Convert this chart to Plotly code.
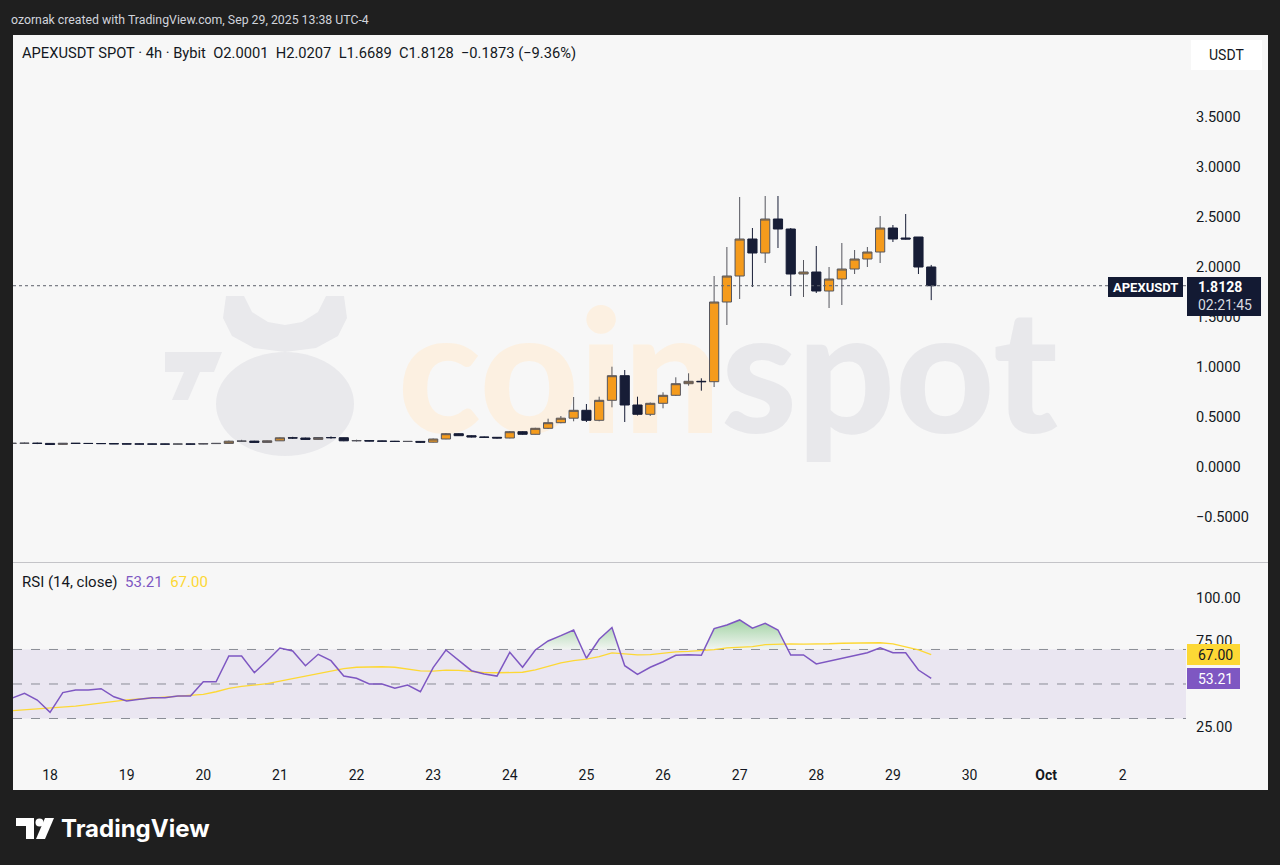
import plotly.graph_objects as go
import pandas as pd

# ---------------- data ----------------
times = pd.date_range("2025-09-17 12:00", periods=73, freq="4h")

opens = [0.236, 0.237, 0.238, 0.236, 0.226, 0.237, 0.236, 0.235, 0.234, 0.232,
         0.230, 0.230, 0.229, 0.229, 0.230, 0.229, 0.234, 0.236, 0.258, 0.259,
         0.246, 0.262, 0.292, 0.290, 0.276, 0.295, 0.293, 0.262, 0.264, 0.260,
         0.258, 0.255, 0.256, 0.248, 0.280, 0.333, 0.313, 0.300, 0.297, 0.290,
         0.353, 0.327, 0.387, 0.443, 0.488, 0.567, 0.467, 0.667, 0.913, 0.620,
         0.527, 0.637, 0.717, 0.833, 0.857, 0.853, 1.650, 1.910, 2.280, 2.140,
         2.480, 2.380, 1.930, 1.950, 1.760, 1.880, 1.980, 2.080, 2.150, 2.390,
         2.290, 2.300, 2.0001]
highs = [0.240, 0.245, 0.244, 0.238, 0.240, 0.240, 0.239, 0.238, 0.236, 0.234,
         0.233, 0.232, 0.232, 0.232, 0.232, 0.236, 0.238, 0.264, 0.272, 0.262,
         0.265, 0.296, 0.302, 0.293, 0.298, 0.306, 0.295, 0.273, 0.267, 0.263,
         0.261, 0.259, 0.258, 0.285, 0.340, 0.337, 0.318, 0.304, 0.300, 0.360,
         0.358, 0.392, 0.483, 0.510, 0.700, 0.630, 0.703, 1.003, 0.970, 0.703,
         0.645, 0.747, 0.897, 0.937, 0.887, 1.910, 2.200, 2.700, 2.390, 2.710,
         2.710, 2.390, 2.070, 2.210, 2.000, 2.240, 2.170, 2.200, 2.510, 2.420,
         2.530, 2.300, 2.0207]
lows = [0.232, 0.230, 0.229, 0.221, 0.222, 0.233, 0.232, 0.232, 0.230, 0.229,
        0.228, 0.228, 0.227, 0.227, 0.227, 0.227, 0.231, 0.234, 0.250, 0.242,
        0.244, 0.260, 0.280, 0.273, 0.274, 0.283, 0.258, 0.255, 0.257, 0.255,
        0.252, 0.251, 0.240, 0.245, 0.278, 0.310, 0.296, 0.293, 0.285, 0.287,
        0.322, 0.325, 0.380, 0.437, 0.457, 0.450, 0.457, 0.597, 0.450, 0.515,
        0.510, 0.587, 0.710, 0.813, 0.763, 0.800, 1.420, 1.680, 1.800, 2.040,
        2.190, 1.710, 1.700, 1.740, 1.590, 1.620, 1.930, 2.000, 2.040, 2.250,
        2.275, 1.930, 1.6689]
closes = [0.237, 0.238, 0.236, 0.226, 0.237, 0.236, 0.235, 0.234, 0.232, 0.230,
          0.230, 0.229, 0.229, 0.230, 0.229, 0.234, 0.236, 0.258, 0.259, 0.246,
          0.262, 0.292, 0.290, 0.276, 0.295, 0.293, 0.262, 0.264, 0.260, 0.258,
          0.255, 0.256, 0.248, 0.280, 0.333, 0.313, 0.300, 0.297, 0.290, 0.353,
          0.327, 0.387, 0.443, 0.488, 0.567, 0.467, 0.667, 0.913, 0.620, 0.527,
          0.637, 0.717, 0.833, 0.857, 0.853, 1.650, 1.910, 2.280, 2.140, 2.480,
          2.380, 1.930, 1.950, 1.760, 1.880, 1.980, 2.080, 2.150, 2.390, 2.280,
          2.280, 2.000, 1.8128]

rsi = [41.7, 44.6, 40.7, 33.6, 45.0, 46.5, 46.5, 47.3, 42.6, 40.1,
       41.1, 42.0, 42.0, 43.0, 43.0, 51.3, 51.3, 66.2, 66.2, 56.6,
       63.5, 70.8, 69.1, 60.6, 67.2, 63.5, 54.6, 53.3, 50.0, 50.0,
       47.5, 49.4, 45.5, 59.5, 69.7, 63.5, 57.7, 55.8, 54.6, 68.4,
       59.7, 69.7, 74.9, 78.0, 81.3, 64.9, 75.9, 82.7, 60.6, 55.6,
       59.7, 62.9, 66.6, 67.0, 66.6, 82.1, 84.2, 87.1, 82.3, 85.2,
       81.3, 66.8, 66.8, 61.6, 63.3, 65.1, 66.6, 68.1, 71.0, 68.1,
       68.1, 58.1, 53.21]
rsi_ma = [34.5, 35.0, 35.6, 36.0, 36.5, 37.2, 38.0, 39.0, 40.0, 40.8,
          41.3, 41.8, 42.3, 43.0, 43.4, 44.0, 45.5, 47.5, 48.6, 49.2,
          50.2, 51.6, 53.0, 54.5, 56.0, 57.6, 58.9, 59.7, 60.0, 60.0,
          59.7, 58.8, 57.6, 57.4, 58.0, 57.9, 57.2, 56.6, 56.5, 56.5,
          56.8, 58.2, 60.2, 62.2, 63.6, 64.4, 65.8, 68.0, 67.5, 66.9,
          67.0, 68.0, 68.6, 68.9, 69.2, 69.9, 70.9, 71.4, 71.7, 72.8,
          73.2, 73.2, 73.1, 73.0, 73.3, 73.6, 73.7, 73.8, 73.9, 73.2,
          71.6, 69.7, 67.0]

price_ticks = [-0.5, 0.0, 0.5, 1.0, 1.5, 2.0, 2.5, 3.0, 3.5]
rsi_ticks = [25, 50, 75, 100]
rsi_levels = [70, 50, 30]
day_ticks = ["2025-09-18", "2025-09-19", "2025-09-20", "2025-09-21", "2025-09-22",
             "2025-09-23", "2025-09-24", "2025-09-25", "2025-09-26", "2025-09-27",
             "2025-09-28", "2025-09-29", "2025-09-30", "2025-10-01", "2025-10-02"]
day_labels = ["18", "19", "20", "21", "22", "23", "24", "25", "26", "27",
              "28", "29", "30", "<b>Oct</b>", "2"]

header = ("APEXUSDT SPOT · 4h · Bybit\u00a0\u00a0O2.0001\u00a0\u00a0H2.0207\u00a0\u00a0"
          "L1.6689\u00a0\u00a0C1.8128\u00a0\u00a0\u22120.1873 (\u22129.36%)")

# ---------------- styling / layout helpers ----------------
W, H = 1280, 865
L_PX, R_PX, T_PX, B_PX = 13, 1186, 35, 762
UP, UP_LINE = "#f59b1c", "#55565e"
DN = "#171d36"
NAVY = "#131a33"
TXT = "#131722"
PURPLE, YELLOW = "#7e57c2", "#fdd835"
FONT = "Roboto, sans-serif"
BG = "#f7f7f7"
DARK = "#1f1f1f"


def px(x):
    return (x - L_PX) / (R_PX - L_PX)


def py(y):
    return (B_PX - y) / (B_PX - T_PX)


def path(points):
    return "M " + " L ".join(f"{px(x):.5f},{py(y):.5f}" for x, y in points) + " Z"


base = pd.Timestamp("2025-09-18")
x_range = [base + pd.Timedelta(hours=4 * -2.9), base + pd.Timedelta(hours=4 * 88.95)]
price_range = [-0.95, 4.32]
rsi_range = [4.8, 120.1]

fig = go.Figure()


def x_at(px_x):
    return x_range[0] + (x_range[1] - x_range[0]) * px(px_x)


def y_at(px_y):
    return price_range[0] + (price_range[1] - price_range[0]) * (562 - px_y) / (562 - 35)


# watermark text on the base price axes (candles live on an overlay axis drawn above it)
wm_x, wm_y = x_at(721), y_at(390)
fig.add_trace(go.Scatter(x=[wm_x], y=[wm_y], mode="text", text=["coin"],
                         textposition="middle left",
                         textfont=dict(family="Lato, sans-serif", size=172, color="#fcf0e1", weight=900),
                         hoverinfo="skip", showlegend=False, xaxis="x", yaxis="y"))
fig.add_trace(go.Scatter(x=[wm_x], y=[wm_y], mode="text", text=["spot"],
                         textposition="middle right",
                         textfont=dict(family="Lato, sans-serif", size=172, color="#e8e8eb", weight=900),
                         hoverinfo="skip", showlegend=False, xaxis="x", yaxis="y"))

fig.add_trace(go.Candlestick(
    x=times, open=opens, high=highs, low=lows, close=closes,
    increasing=dict(fillcolor=UP, line=dict(color=UP_LINE, width=1)),
    decreasing=dict(fillcolor=DN, line=dict(color=DN, width=1)),
    whiskerwidth=0, showlegend=False, xaxis="x", yaxis="y3"))

# RSI overbought fill
fx, fy = [], []
for i in range(len(rsi)):
    if i > 0 and (rsi[i - 1] - 70) * (rsi[i] - 70) < 0:
        f = (70 - rsi[i - 1]) / (rsi[i] - rsi[i - 1])
        fx.append(times[i - 1] + (times[i] - times[i - 1]) * f)
        fy.append(70)
    fx.append(times[i])
    fy.append(max(rsi[i], 70))
fig.add_trace(go.Scatter(x=fx, y=[70] * len(fx), mode="lines", line=dict(width=0),
                         hoverinfo="skip", showlegend=False, xaxis="x", yaxis="y2"))
fig.add_trace(go.Scatter(x=fx, y=fy, mode="lines", line=dict(width=0), fill="tonexty",
                         fillgradient=dict(type="vertical",
                                           colorscale=[[0, "rgba(76,175,80,0.03)"],
                                                       [1, "rgba(76,175,80,0.5)"]]),
                         hoverinfo="skip", showlegend=False, xaxis="x", yaxis="y2"))

fig.add_trace(go.Scatter(x=times, y=rsi_ma, mode="lines", line=dict(color=YELLOW, width=1.3),
                         showlegend=False, xaxis="x", yaxis="y2"))
fig.add_trace(go.Scatter(x=times, y=rsi, mode="lines", line=dict(color=PURPLE, width=1.5),
                         showlegend=False, xaxis="x", yaxis="y2"))

shapes = []
# chart frame
shapes.append(dict(type="rect", xref="paper", yref="paper", x0=px(13), x1=px(1268),
                   y0=py(790), y1=py(35), fillcolor=BG, line=dict(width=0), layer="below"))
# mascot watermark
MC = "#e9e9ec"
shapes.append(dict(type="circle", xref="paper", yref="paper", x0=px(216), x1=px(354),
                   y0=py(456), y1=py(352), fillcolor=MC, line=dict(width=0), layer="below"))
shapes.append(dict(type="path", xref="paper", yref="paper", layer="below",
                   path=path([(226, 296), (244, 296), (252, 312), (268, 322), (285, 325),
                              (302, 322), (318, 312), (326, 296), (344, 296), (347, 318),
                              (338, 336), (316, 348), (285, 352), (254, 348), (232, 336),
                              (223, 318)]),
                   fillcolor=MC, line=dict(width=0)))
shapes.append(dict(type="path", xref="paper", yref="paper", layer="below",
                   path=path([(165, 352), (222, 352), (214, 372), (200, 372), (188, 400),
                              (172, 400), (184, 372), (165, 372)]),
                   fillcolor=MC, line=dict(width=0)))
# RSI band & levels
shapes.append(dict(type="rect", xref="paper", yref="y2", x0=0, x1=1, y0=30, y1=70,
                   fillcolor="rgba(126,87,194,0.1)", line=dict(width=0), layer="below"))
for lv in rsi_levels:
    shapes.append(dict(type="line", xref="paper", yref="y2", x0=0, x1=1, y0=lv, y1=lv,
                       line=dict(color="#8a8d96", width=1, dash="dash"), layer="below"))
# pane separator
shapes.append(dict(type="line", xref="paper", yref="paper", x0=px(13), x1=px(1268),
                   y0=py(562.5), y1=py(562.5), line=dict(color="#c4c4c8", width=1)))
# last price dotted line
shapes.append(dict(type="line", xref="paper", yref="y", x0=0, x1=1,
                   y0=closes[-1], y1=closes[-1], line=dict(color="#5d606b", width=1, dash="dot")))
# USDT box
shapes.append(dict(type="rect", xref="paper", yref="paper", x0=px(1191), x1=px(1262),
                   y0=py(70), y1=py(40), fillcolor="#ffffff", line=dict(width=0)))
# price labels
shapes.append(dict(type="rect", xref="paper", yref="paper", x0=px(1108), x1=px(1183),
                   y0=py(297), y1=py(277), fillcolor=NAVY, line=dict(width=0)))
shapes.append(dict(type="rect", xref="paper", yref="paper", x0=px(1187), x1=px(1261),
                   y0=py(316), y1=py(277), fillcolor=NAVY, line=dict(width=0)))
# RSI badges
shapes.append(dict(type="rect", xref="paper", yref="paper", x0=px(1187), x1=px(1240),
                   y0=py(665), y1=py(644), fillcolor=YELLOW, line=dict(width=0)))
shapes.append(dict(type="rect", xref="paper", yref="paper", x0=px(1187), x1=px(1240),
                   y0=py(689), y1=py(668), fillcolor=PURPLE, line=dict(width=0)))
# TradingView logo glyph
shapes.append(dict(type="path", xref="paper", yref="paper",
                   path=path([(16, 818), (34, 818), (34, 839), (26, 839), (26, 826), (16, 826)]),
                   fillcolor="#ffffff", line=dict(width=0)))
shapes.append(dict(type="circle", xref="paper", yref="paper", x0=px(35.5), x1=px(43.5),
                   y0=py(826.5), y1=py(818.5), fillcolor="#ffffff", line=dict(width=0)))
shapes.append(dict(type="path", xref="paper", yref="paper",
                   path=path([(45, 818), (54, 818), (45, 839), (36, 839)]),
                   fillcolor="#ffffff", line=dict(width=0)))

ann = []


def add_text(x, y, text, size=13, color=TXT, xanchor="left", family=FONT):
    ann.append(dict(xref="paper", yref="paper", x=px(x), y=py(y), text=text, showarrow=False,
                    xanchor=xanchor, yanchor="middle", font=dict(family=family, size=size, color=color)))


add_text(9, 20, "ozornak created with TradingView.com, Sep 29, 2025 13:38 UTC-4", 12.3, "#d1d4dc")
add_text(20, 53, header, 14.7)
add_text(20, 582, "RSI (14, close)\u00a0\u00a0" f"<span style='color:{PURPLE}'>{rsi[-1]:.2f}</span>"
         "\u00a0\u00a0" f"<span style='color:{YELLOW}'>{rsi_ma[-1]:.2f}</span>", 15)
add_text(1226.5, 55, "USDT", 14, xanchor="center")
add_text(1145.5, 287, "<b>APEXUSDT</b>", 13, "#ffffff", xanchor="center")
add_text(1196, 287, f"<b>{closes[-1]:.4f}</b>", 14, "#ffffff")
add_text(1196, 305, "02:21:45", 14, "#d8dae0")
add_text(1196, 655, f"{rsi_ma[-1]:.2f}", 14, TXT)
add_text(1196, 679, f"{rsi[-1]:.2f}", 14, "#ffffff")
add_text(59, 828, "<b>TradingView</b>", 24, "#ffffff", family="Inter, sans-serif")

fig.update_layout(
    width=W, height=H,
    margin=dict(l=L_PX, r=W - R_PX, t=T_PX, b=H - B_PX),
    paper_bgcolor=DARK, plot_bgcolor=BG,
    font=dict(family=FONT, size=13, color=TXT),
    showlegend=False,
    boxgap=0.2, boxgroupgap=0.1,
    shapes=shapes, annotations=ann,
    xaxis=dict(type="date", range=x_range, anchor="y2", domain=[0, 1],
               tickvals=day_ticks, ticktext=day_labels, ticks="", showgrid=False,
               zeroline=False, showline=False, rangeslider=dict(visible=False),
               tickfont=dict(size=14, color=TXT), ticklabelstandoff=3),
    yaxis=dict(domain=[py(562), 1], range=price_range, side="right", anchor="x",
               tickvals=price_ticks, tickformat=".4f", showgrid=False, zeroline=False,
               showline=False, ticks="", tickfont=dict(size=14.5, color=TXT), ticklabelstandoff=9),
    yaxis3=dict(overlaying="y", range=price_range, side="right", anchor="x",
                showticklabels=False, showgrid=False, zeroline=False, showline=False, ticks=""),
    yaxis2=dict(domain=[0, py(563)], range=rsi_range, side="right", anchor="x",
                tickvals=rsi_ticks, tickformat=".2f", showgrid=False, zeroline=False,
                showline=False, ticks="", tickfont=dict(size=14.5, color=TXT), ticklabelstandoff=9),
    hovermode=False,
)

fig.write_html("out.html", config={"displayModeBar": False},
               post_script=f"document.body.style.margin='0';document.body.style.background='{DARK}';")
